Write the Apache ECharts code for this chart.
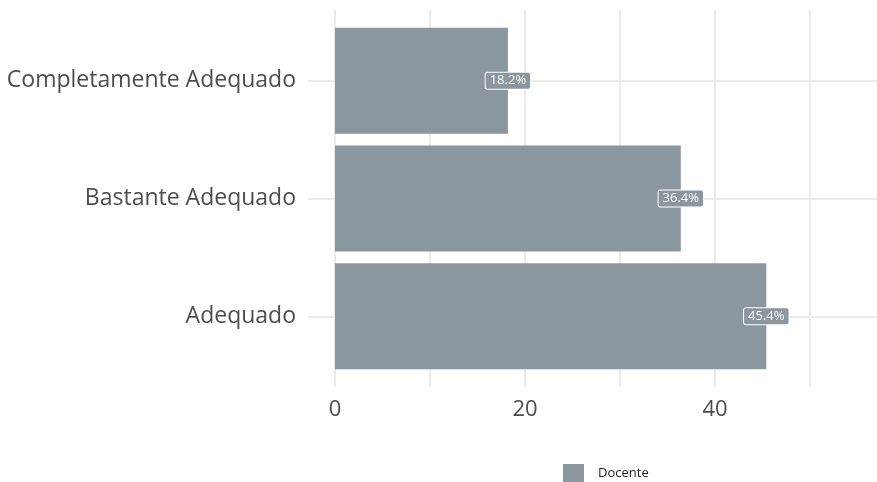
<!DOCTYPE html>
<html>
<head>
<meta charset="utf-8">
<script src="https://cdn.jsdelivr.net/npm/echarts@6/dist/echarts.min.js"></script>
<style>html,body{margin:0;padding:0;background:#fff}#c{width:877px;height:482px}</style>
</head>
<body>
<div id="c"></div>
<script>
// Data
var categories = ['Adequado', 'Bastante Adequado', 'Completamente Adequado'];
var values = [45.4, 36.4, 18.2];
var labels = ['45.4%', '36.4%', '18.2%'];
var xTickLabels = [0, 20, 40];
var xGridValues = [0, 10, 20, 30, 40, 50];
var seriesName = 'Docente';

var barColor = '#8B979E';
var textColor = '#4D4D4D';
var gridColor = '#EBEBEB';
var fontFam = '"Open Sans", "DejaVu Sans", sans-serif';

var positions = categories.map(function (c, i) { return i + 1; });
var data = values.map(function (v, i) { return [v, positions[i], labels[i]]; });

var chart = echarts.init(document.getElementById('c'), null, { renderer: 'canvas' });
chart.setOption({
  animation: false,
  backgroundColor: '#fff',
  grid: { left: 308, right: 0, top: 10, height: 377, containLabel: false },
  xAxis: {
    type: 'value', min: -2.84, max: 57.05,
    axisLine: { show: false },
    axisTick: { show: false, customValues: xGridValues },
    axisLabel: { customValues: xTickLabels, color: textColor, fontSize: 22, fontFamily: fontFam, margin: 12 },
    splitLine: { show: true, lineStyle: { color: gridColor, width: 2 } }
  },
  yAxis: {
    type: 'value', min: 0.4, max: 3.6,
    axisLine: { show: false },
    axisTick: { show: false, customValues: positions },
    axisLabel: {
      customValues: positions, color: textColor, fontSize: 23, fontFamily: fontFam, margin: 12,
      formatter: function (v) { return categories[Math.round(v) - 1]; }
    },
    splitLine: { show: true, lineStyle: { color: gridColor, width: 2 } }
  },
  legend: {
    data: [{ name: seriesName, icon: 'rect' }],
    left: 563, top: 464, padding: 0, itemWidth: 21, itemHeight: 18,
    textStyle: { color: '#1A1A1A', fontSize: 13, fontFamily: fontFam, padding: [0, 0, 0, 9] }
  },
  series: [{
    name: seriesName,
    type: 'custom',
    itemStyle: { color: barColor },
    encode: { x: 0, y: 1 },
    data: data,
    renderItem: function (params, api) {
      var v = api.value(0), y = api.value(1);
      var p0 = api.coord([0, y + 0.45]);
      var p1 = api.coord([v, y - 0.45]);
      var pc = api.coord([v, y]);
      return {
        type: 'group',
        children: [
          { type: 'rect', shape: { x: p0[0], y: p0[1], width: p1[0] - p0[0], height: p1[1] - p0[1] }, style: { fill: barColor } },
          { type: 'text', x: pc[0], y: pc[1], z2: 10,
            style: { text: labels[params.dataIndex], fill: '#fff', font: '13px ' + fontFam, align: 'center', verticalAlign: 'middle',
              backgroundColor: barColor, borderColor: '#fff', borderWidth: 1, borderRadius: 2, padding: [2, 4, 1, 4] } }
        ]
      };
    }
  }]
});
</script>
</body>
</html>
